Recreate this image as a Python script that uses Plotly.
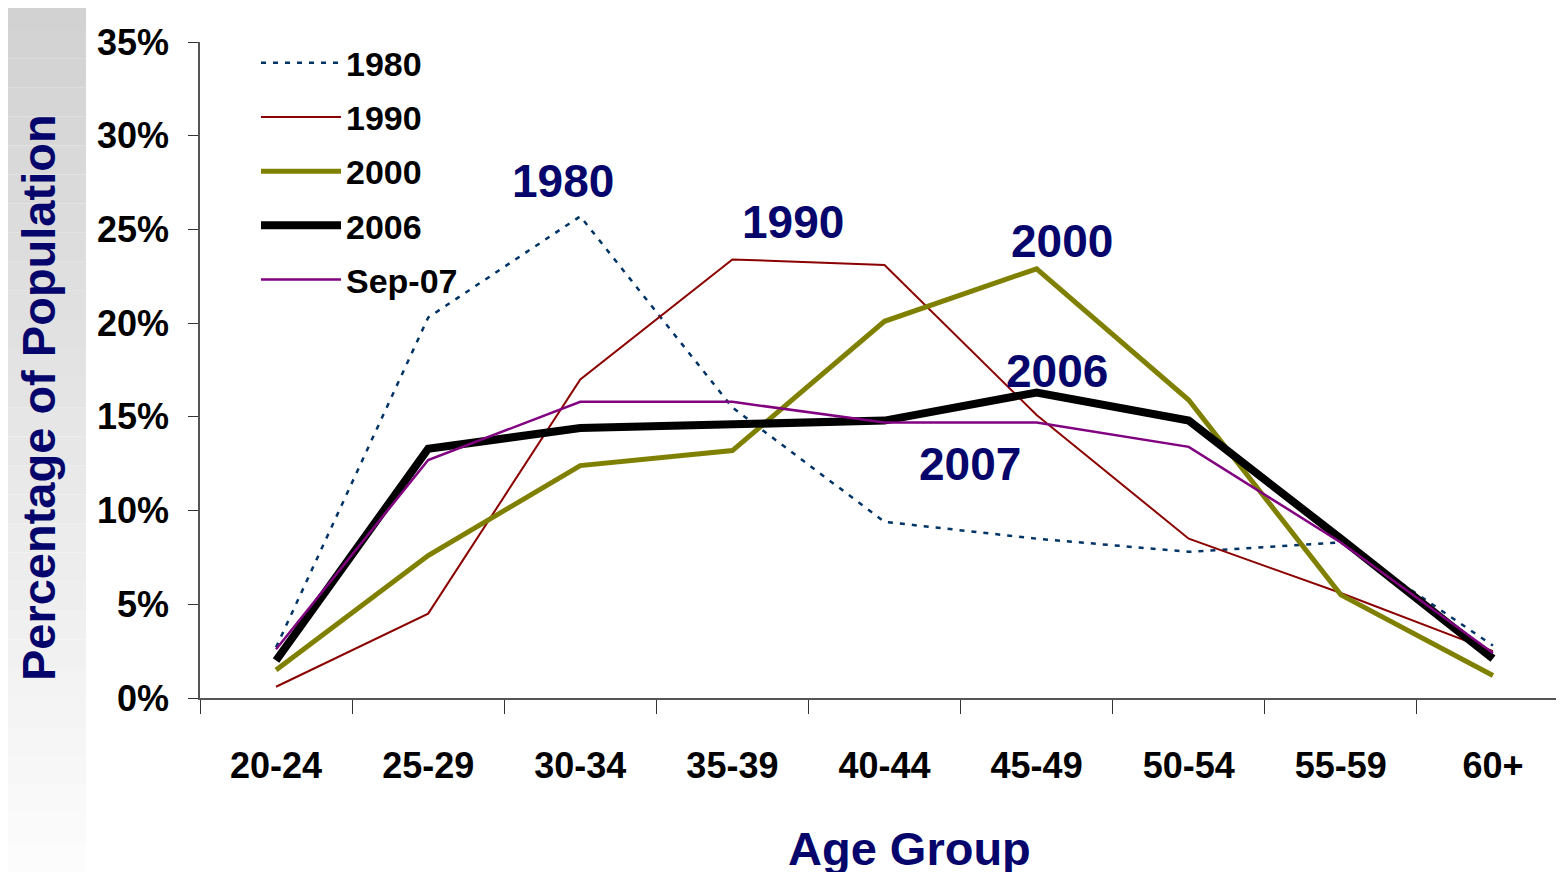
import plotly.graph_objects as go

ages = ["20-24", "25-29", "30-34", "35-39", "40-44", "45-49", "50-54", "55-59", "60+"]
y1980 = [2.7, 20.3, 25.7, 15.5, 9.4, 8.5, 7.8, 8.3, 2.8]
y1990 = [0.6, 4.5, 17.0, 23.4, 23.1, 15.1, 8.5, 5.6, 2.5]
y2000 = [1.5, 7.6, 12.4, 13.2, 20.1, 22.9, 15.9, 5.5, 1.2]
y2006 = [2.0, 13.3, 14.4, 14.6, 14.8, 16.3, 14.8, 8.5, 2.1]
ysep07 = [2.6, 12.7, 15.8, 15.8, 14.7, 14.7, 13.4, 8.3, 2.4]

series_names = ["1980", "1990", "2000", "2006", "Sep-07"]
series_vals = [y1980, y1990, y2000, y2006, ysep07]
series_colors = ["#003366", "#8B0000", "#808000", "#000000", "#800080"]
series_widths = [2.5, 2, 5, 8, 2.5]
series_dash = ["5px,7px", "solid", "solid", "solid", "solid"]

label_texts = ["1980", "1990", "2000", "2006", "2007"]
label_cat = ["30-34", "35-39", "45-49", "45-49", "40-44"]
label_y = [27.6, 25.4, 24.4, 17.45, 12.5]
label_shift = [-17, 61, 25, 20, 85]

NAVY = "#05056b"
TICKFONT = "Liberation Sans Narrow, Arial Narrow, Liberation Sans, Arial, sans-serif"
BOLDFONT = "Liberation Sans, Arial, sans-serif"

fig = go.Figure()
for name, vals, col, w, d in zip(series_names, series_vals, series_colors, series_widths, series_dash):
    fig.add_trace(go.Scatter(
        x=ages, y=vals, name=name, mode="lines", legendgroup=name,
        line=dict(color=col, width=w, dash=d),
    ))

for t, c, yy, sh in zip(label_texts, label_cat, label_y, label_shift):
    fig.add_annotation(x=c, y=yy, text=f"<b>{t}</b>", showarrow=False, xshift=sh,
                       xanchor="center", yanchor="middle",
                       font=dict(family=BOLDFONT, size=46, color=NAVY))

# background strip on the left (decorative gradient)
n_bands = 30
for i in range(n_bands):
    g = int(210 + (252 - 210) * i / (n_bands - 1))
    fig.add_shape(type="rect", xref="paper", yref="paper",
                  x0=-0.1461, x1=-0.0833,
                  y0=1.064 - 1.33 * i / n_bands,
                  y1=1.064 - 1.33 * (i + 1) / n_bands,
                  fillcolor=f"rgb({g},{g},{g})", line=dict(width=0), layer="below")

fig.add_annotation(xref="paper", yref="paper", x=-0.1183, y=0.4573, textangle=-90,
                   xanchor="center", yanchor="middle",
                   text="<b>Percentage of Population</b>", showarrow=False,
                   font=dict(family=BOLDFONT, size=47, color=NAVY))
fig.add_annotation(xref="paper", yref="paper", x=0.5179, y=-0.2287,
                   xanchor="center", yanchor="middle",
                   text="<b>Age Group</b>", showarrow=False,
                   font=dict(family=BOLDFONT, size=47, color=NAVY))

fig.update_layout(
    width=1564, height=872,
    margin=dict(l=192, r=3, t=34, b=182),
    paper_bgcolor="white", plot_bgcolor="white",
    showlegend=True,
    legend=dict(x=0.0409, y=1.012, xanchor="left", yanchor="top",
                bgcolor="rgba(0,0,0,0)", itemwidth=80,
                font=dict(family=TICKFONT, size=34, color="black", weight="bold"),
                tracegroupgap=7),
    xaxis=dict(
        type="category", range=[-0.5, 8.5], showgrid=False, zeroline=False,
        automargin=False,
        showline=True, linecolor="#555555", linewidth=1.5,
        ticks="outside", ticklen=14, tickcolor="#333333", tickwidth=1,
        tickson="boundaries", ticklabelstandoff=35,
        tickfont=dict(family=TICKFONT, size=36, color="black", weight="bold"),
    ),
    yaxis=dict(
        range=[0, 35], dtick=5, ticksuffix="%", showgrid=False, zeroline=False,
        automargin=False,
        showline=True, linecolor="#555555", linewidth=1.5,
        ticks="outside", ticklen=10, tickcolor="#333333", tickwidth=1,
        ticklabelstandoff=12,
        tickfont=dict(family=TICKFONT, size=36, color="black", weight="bold"),
    ),
)

fig.write_html("out.html")
